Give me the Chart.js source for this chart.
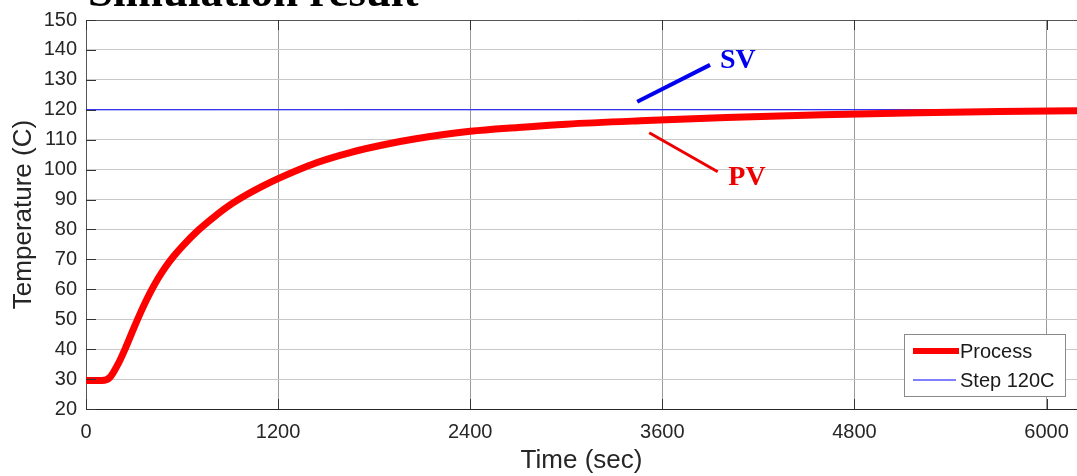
<!DOCTYPE html>
<html>
<head>
<meta charset="utf-8">
<script src="https://cdn.jsdelivr.net/npm/chart.js@4/dist/chart.umd.min.js"></script>
<style>
  html, body { margin: 0; padding: 0; background: #fff; }
  canvas { display: block; }
</style>
</head>
<body>
<canvas id="tempChart" width="1077" height="476"></canvas>
<script>
// process response (PV) of the heater, seconds / degrees C
const timeSec = [0, 100, 150, 200, 250, 300, 350, 400, 450, 500, 550, 600, 700, 800, 900, 1000, 1100, 1200, 1440, 1650, 1860, 2060, 2400, 2700, 3000, 3500, 4000, 4600, 5200, 5700, 6200];
const processTemp = [29.5, 29.5, 30.6, 35.0, 40.8, 47.2, 53.3, 58.8, 63.6, 67.7, 71.2, 74.3, 79.7, 84.2, 88.2, 91.5, 94.4, 97.0, 102.3, 105.7, 108.3, 110.3, 112.8, 114.1, 115.2, 116.4, 117.4, 118.3, 119.0, 119.4, 119.7];

// set point (SV)
const stepTime = [0, 6200];
const stepTemp = [120, 120];

const xTicks = [0, 1200, 2400, 3600, 4800, 6000];
const yTicks = [20, 30, 40, 50, 60, 70, 80, 90, 100, 110, 120, 130, 140, 150];

const seriesNames = ['Process', 'Step 120C'];

// callout lines + labels, given in data units
const svNote = { text: 'SV', from: [3443, 122.7], to: [3898, 135.0], at: [3960, 133.9], color: '#0000ee', width: 4 };
const pvNote = { text: 'PV', from: [3518, 112.3], to: [3946, 99.3], at: [4012, 94.9], color: '#ee0000', width: 3 };

const toXY = (xs, ys) => xs.map((x, i) => ({ x: x, y: ys[i] }));

const frameTicks = {
  id: 'frameTicks',
  afterDatasetsDraw(chart) {
    const { ctx, chartArea: a, scales: { x, y } } = chart;
    ctx.save();
    // top border
    ctx.strokeStyle = '#555';
    ctx.lineWidth = 1;
    ctx.beginPath();
    ctx.moveTo(a.left, a.top + 0.5);
    ctx.lineTo(a.right, a.top + 0.5);
    ctx.stroke();
    // inward tick marks
    ctx.strokeStyle = '#333';
    ctx.beginPath();
    yTicks.forEach(v => {
      const py = Math.round(y.getPixelForValue(v)) + 0.5;
      ctx.moveTo(a.left, py);
      ctx.lineTo(a.left + 10, py);
    });
    xTicks.forEach(v => {
      const px = Math.round(x.getPixelForValue(v)) + 0.5;
      ctx.moveTo(px, a.bottom);
      ctx.lineTo(px, a.bottom - 10);
      ctx.moveTo(px, a.top);
      ctx.lineTo(px, a.top + 10);
    });
    ctx.stroke();
    ctx.restore();
  }
};

const callouts = {
  id: 'callouts',
  afterDraw(chart) {
    const { ctx, scales: { x, y } } = chart;
    ctx.save();
    [svNote, pvNote].forEach(n => {
      ctx.strokeStyle = n.color;
      ctx.lineWidth = n.width;
      ctx.beginPath();
      ctx.moveTo(x.getPixelForValue(n.from[0]), y.getPixelForValue(n.from[1]));
      ctx.lineTo(x.getPixelForValue(n.to[0]), y.getPixelForValue(n.to[1]));
      ctx.stroke();
      ctx.fillStyle = n.color;
      ctx.font = 'bold 28px "Liberation Serif", "Times New Roman", serif';
      ctx.textBaseline = 'alphabetic';
      ctx.fillText(n.text, x.getPixelForValue(n.at[0]), y.getPixelForValue(n.at[1]));
    });

    // heading, cut by the top edge of the page
    ctx.fillStyle = '#000';
    ctx.font = 'bold 45px "Liberation Serif", "Times New Roman", serif';
    ctx.fillText('Simulation result', 88, 6);
    ctx.restore();
  }
};

const boxLegend = {
  id: 'boxLegend',
  afterDraw(chart) {
    const { ctx, chartArea: a } = chart;
    const w = 161, h = 62;
    const bx = a.right - 12 - w, by = a.bottom - 13 - h;
    ctx.save();
    ctx.fillStyle = '#fff';
    ctx.fillRect(bx, by, w, h);
    ctx.strokeStyle = '#8a8a8a';
    ctx.lineWidth = 1;
    ctx.strokeRect(bx + 0.5, by + 0.5, w, h);
    ctx.font = '20px "Liberation Sans", Arial, sans-serif';
    ctx.textBaseline = 'middle';
    ctx.fillStyle = '#1a1a1a';
    chart.data.datasets.forEach((ds, i) => {
      const ly = by + 17 + i * 29;
      ctx.strokeStyle = ds.borderColor;
      ctx.lineWidth = i === 0 ? 6 : 1;
      ctx.beginPath();
      ctx.moveTo(bx + 9, ly);
      ctx.lineTo(bx + (i === 0 ? 55 : 52), ly);
      ctx.stroke();
      ctx.fillText(ds.label, bx + 56, ly + 1);
    });
    ctx.restore();
  }
};

const axisFont = { family: '"Liberation Sans", Arial, sans-serif', size: 20 };
const titleFont = { family: '"Liberation Sans", Arial, sans-serif', size: 26 };

new Chart(document.getElementById('tempChart'), {
  type: 'line',
  data: {
    datasets: [{
      label: seriesNames[0],
      data: toXY(timeSec, processTemp),
      borderColor: '#ff0000',
      borderWidth: 7,
      pointRadius: 0,
      cubicInterpolationMode: 'monotone',
      borderCapStyle: 'butt'
    }, {
      label: seriesNames[1],
      data: toXY(stepTime, stepTemp),
      borderColor: '#0000ff',
      borderWidth: 1,
      pointRadius: 0
    }]
  },
  options: {
    responsive: false,
    animation: false,
    layout: { padding: { top: 20, left: 0, right: 0, bottom: 0 } },
    plugins: {
      legend: { display: false },
      tooltip: { enabled: false }
    },
    scales: {
      x: {
        type: 'linear',
        min: 0,
        max: 6190,
        afterBuildTicks: s => { s.ticks = xTicks.map(v => ({ value: v })); },
        afterFit: s => { s.height = 67; s.paddingLeft = 0; s.paddingRight = 0; },
        ticks: {
          includeBounds: false,
          padding: 11,
          maxRotation: 0,
          color: '#262626',
          font: axisFont,
          callback: v => String(v)
        },
        grid: { color: '#9a9a9a', drawTicks: false },
        border: { color: '#262626', width: 1 },
        title: {
          display: true,
          text: 'Time (sec)',
          color: '#262626',
          padding: { top: 0, bottom: 0 },
          font: titleFont
        }
      },
      y: {
        min: 20,
        max: 150,
        afterBuildTicks: s => { s.ticks = yTicks.map(v => ({ value: v })); },
        afterFit: s => { s.width = 86; s.paddingTop = 0; s.paddingBottom = 0; },
        ticks: {
          padding: 9,
          color: '#262626',
          font: axisFont
        },
        grid: { color: '#c8c8c8', drawTicks: false },
        border: { color: '#555', width: 1 },
        title: {
          display: true,
          text: 'Temperature (C)',
          color: '#262626',
          padding: { top: 8, bottom: 0 },
          font: titleFont
        }
      }
    }
  },
  plugins: [frameTicks, callouts, boxLegend]
});
</script>
</body>
</html>
